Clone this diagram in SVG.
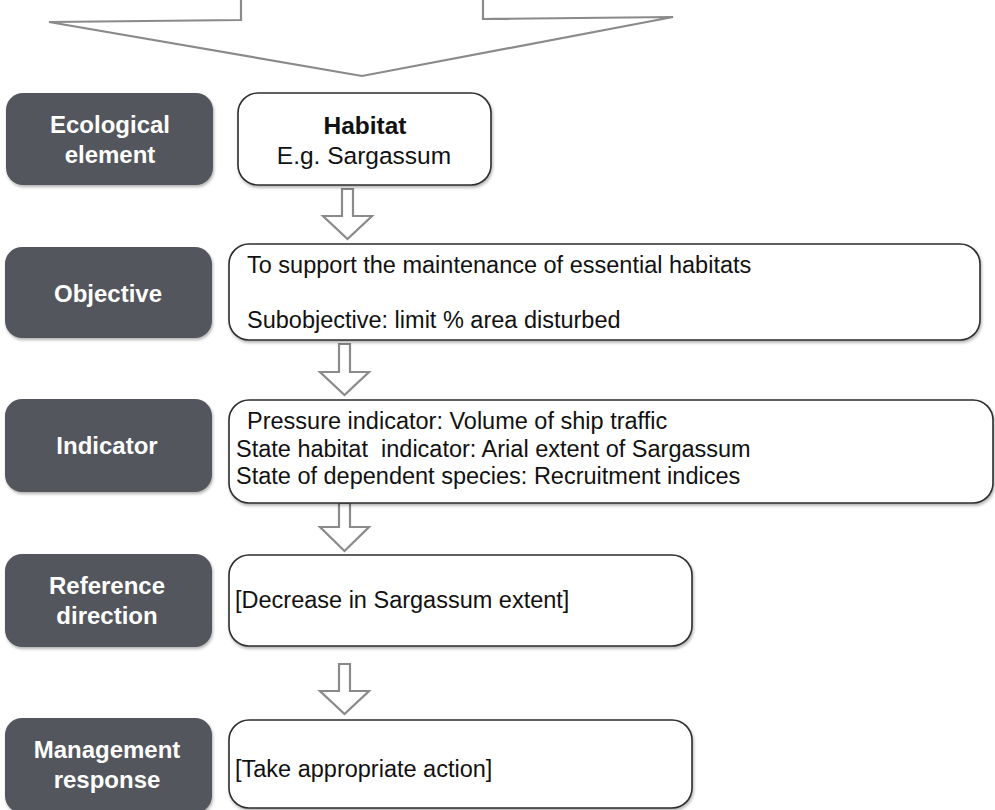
<svg xmlns="http://www.w3.org/2000/svg" width="995" height="810" viewBox="0 0 995 810">
<defs>
<filter id="sh" x="-10%" y="-10%" width="125%" height="130%">
<feDropShadow dx="1" dy="2" stdDeviation="1.5" flood-color="#000" flood-opacity="0.3"/>
</filter>
<style>
.dark{fill:#53575c;filter:url(#sh)}
.white{fill:#fff;stroke:#2e2e2e;stroke-width:1.6;filter:url(#sh)}
.lbl{font-family:"Liberation Sans",Arial,sans-serif;font-weight:bold;font-size:24px;fill:#fff;text-anchor:middle}
.txt{font-family:"Liberation Sans",Arial,sans-serif;font-size:23.5px;fill:#111;white-space:pre}
.hab{font-family:"Liberation Sans",Arial,sans-serif;font-size:24.5px;fill:#111;text-anchor:middle}
.arr{fill:#fff;stroke:#8a8a8a;stroke-width:2.2;stroke-linejoin:miter}
</style>
</defs>
<rect width="995" height="810" fill="#fff"/>
<g id="connectors">
<polygon class="arr" points="241,-5 241,20 49,22 362,76 673,17 483,19 483,-5"/>
<polygon class="arr" points="342,189 353,189 353,216 372,216 347.5,239 323,216 342,216"/>
<polygon class="arr" points="339,344 350,344 350,372 369,372 344.5,395 320,372 339,372"/>
<polygon class="arr" points="339,503 350,503 350,527 369,527 344.5,551 320,527 339,527"/>
<polygon class="arr" points="339,664 350,664 350,691 369,691 344.5,714 320,691 339,691"/>
</g>
<g id="label-ecological">
<rect class="dark" x="6" y="93" width="207" height="92" rx="17"/>
<text class="lbl" x="110" y="133">Ecological</text>
<text class="lbl" x="110" y="163">element</text>
</g>
<g id="label-objective">
<rect class="dark" x="5" y="247" width="207" height="91" rx="17"/>
<text class="lbl" x="108" y="302">Objective</text>
</g>
<g id="label-indicator">
<rect class="dark" x="5" y="399" width="207" height="93" rx="17"/>
<text class="lbl" x="107" y="454">Indicator</text>
</g>
<g id="label-reference">
<rect class="dark" x="5" y="554" width="207" height="93" rx="17"/>
<text class="lbl" x="107" y="594">Reference</text>
<text class="lbl" x="107" y="624">direction</text>
</g>
<g id="label-management">
<rect class="dark" x="5" y="718" width="207" height="95" rx="17"/>
<text class="lbl" x="107" y="758">Management</text>
<text class="lbl" x="107" y="788">response</text>
</g>
<g id="box-habitat">
<rect class="white" x="238" y="93" width="253" height="92" rx="20"/>
<text class="hab" x="365" y="134" font-weight="bold">Habitat</text>
<text class="hab" x="364" y="164">E.g. Sargassum</text>
</g>
<g id="box-objective">
<rect class="white" x="229" y="244" width="751" height="96" rx="20"/>
<text class="txt" x="247" y="273">To support the maintenance of essential habitats</text>
<text class="txt" x="247" y="328">Subobjective: limit % area disturbed</text>
</g>
<g id="box-indicator">
<rect class="white" x="229" y="400" width="764" height="103" rx="20"/>
<text class="txt" x="247" y="429">Pressure indicator: Volume of ship traffic</text>
<text class="txt" x="236" y="457">State habitat  indicator: Arial extent of Sargassum</text>
<text class="txt" x="236" y="484">State of dependent species: Recruitment indices</text>
</g>
<g id="box-reference">
<rect class="white" x="229" y="555" width="463" height="91" rx="20"/>
<text class="txt" x="235" y="608">[Decrease in Sargassum extent]</text>
</g>
<g id="box-management">
<rect class="white" x="229" y="720" width="463" height="88" rx="20"/>
<text class="txt" x="235" y="777">[Take appropriate action]</text>
</g>
</svg>
